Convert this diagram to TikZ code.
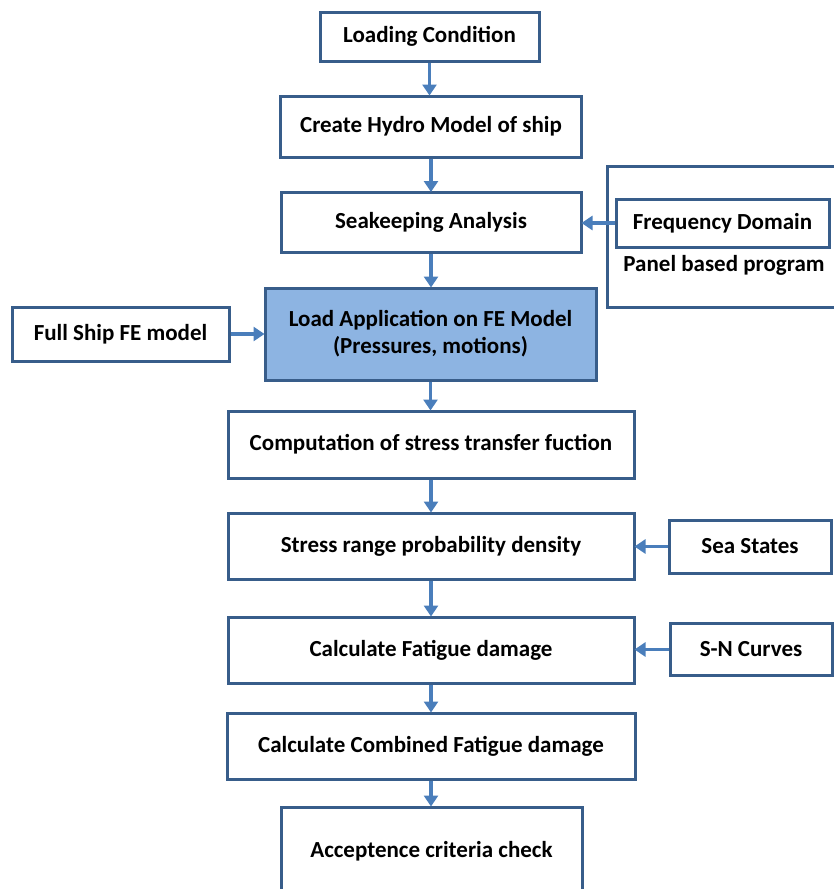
\documentclass[tikz,border=0pt]{standalone}
\usepackage{fontspec}
\setmainfont{Carlito}
\usetikzlibrary{arrows.meta}
\definecolor{bordc}{RGB}{56,93,138}
\definecolor{arrc}{RGB}{74,126,187}
\definecolor{fillc}{RGB}{141,180,226}
\tikzset{
  lbl/.style={font=\bfseries\fontsize{23}{27}\selectfont, text=black},
  box/.style={draw=bordc, line width=3pt, fill=white, rectangle, inner sep=0pt,
    lbl, align=center},
  flow/.style={draw=arrc, line width=3.5pt, -{Triangle[width=14pt,length=11pt]}, shorten >=-1pt},
}
\begin{document}
\begin{tikzpicture}[x=1pt,y=-1pt]
\useasboundingbox (0,0) rectangle (834,889);
\clip (0,0) rectangle (834,889);
% main chain
\node[box, minimum width=219pt, minimum height=49pt] (load) at (429.5,36.5) {Loading Condition};
\node[box, minimum width=301pt, minimum height=61pt] (hydro) at (431,126.5) {Create Hydro Model of ship};
\node[box, minimum width=300pt, minimum height=60pt] (seak) at (431,222.5) {Seakeeping Analysis};
\node[box, fill=fillc, minimum width=331pt, minimum height=92pt] (fea) at (430.5,334) {Load Application on FE Model\\(Pressures, motions)};
\node[box, minimum width=406pt, minimum height=67pt] (comp) at (431,444.5) {Computation of stress transfer fuction};
\node[box, minimum width=406pt, minimum height=66pt] (stress) at (431,546) {Stress range probability density};
\node[box, minimum width=406pt, minimum height=66pt] (fat) at (431,650) {Calculate Fatigue damage};
\node[box, minimum width=408pt, minimum height=66pt] (comb) at (431,746) {Calculate Combined Fatigue damage};
\node[box, minimum width=301pt, minimum height=100pt] (acc) at (431.5,857) {};
\node[lbl] (acctext) at (431.5,851) {Acceptence criteria check};
% side inputs
\node[box, minimum width=217pt, minimum height=54pt] (full) at (120.5,334) {Full Ship FE model};
\node[box, minimum width=243pt, minimum height=141pt] (panel) at (728.5,236.5) {};
\node[lbl] (paneltext) at (724,265.5) {Panel based program};
\node[box, minimum width=213pt, minimum height=48pt] (freq) at (722.5,223) {Frequency Domain};
\node[box, minimum width=162pt, minimum height=53pt] (sea) at (750,546.5) {Sea States};
\node[box, minimum width=162pt, minimum height=52pt] (sn) at (751,649.5) {S-N Curves};
% connectors
\draw[flow] (load.south) -- (load.south |- hydro.north);
\draw[flow] (hydro.south) -- (hydro.south |- seak.north);
\draw[flow] (seak.south) -- (seak.south |- fea.north);
\draw[flow] (fea.south) -- (fea.south |- comp.north);
\draw[flow] (comp.south) -- (comp.south |- stress.north);
\draw[flow] (stress.south) -- (stress.south |- fat.north);
\draw[flow] (fat.south) -- (fat.south |- comb.north);
\draw[flow] (comb.south) -- (comb.south |- acc.north);
\draw[flow] (full.east) -- (full.east -| fea.west);
\draw[flow] (freq.west) -- (freq.west -| seak.east);
\draw[flow] (sea.west) -- (sea.west -| stress.east);
\draw[flow] (sn.west) -- (sn.west -| fat.east);
\end{tikzpicture}
\end{document}
